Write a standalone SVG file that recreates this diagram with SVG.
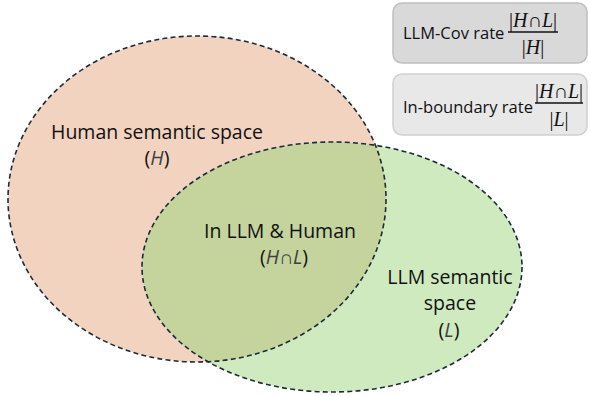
<svg xmlns="http://www.w3.org/2000/svg" width="590" height="396" viewBox="0 0 590 396">
<style>
.lbl{font-family:"Open Sans","Liberation Sans",sans-serif;font-size:19.5px;fill:#111;text-anchor:middle}
.var{font-style:italic;fill:#404040}
.edge{fill:none;stroke:#1e2a38;stroke-width:1.6;stroke-dasharray:5 3.2}
.box1{fill:#d9d9d9;stroke:#bfbfbf;stroke-width:1.5}
.box2{fill:#e8e8e8;stroke:#d0d0d0;stroke-width:1.5}
.btxt{font-family:"Open Sans","Liberation Sans",sans-serif;font-size:16.5px;fill:#111}
.math{font-family:"Liberation Serif","DejaVu Serif",serif;font-size:20px;fill:#111;text-anchor:middle}
.mi{font-style:italic}
</style>
<defs>
<clipPath id="clipH"><ellipse cx="197" cy="199" rx="189" ry="163"/></clipPath>
</defs>
<g id="human">
<ellipse cx="197" cy="199" rx="189" ry="163" fill="#f2d3c0"/>
</g>
<g id="llm">
<ellipse cx="332" cy="267" rx="190" ry="125" fill="#d0eac0"/>
</g>
<g id="overlap">
<ellipse cx="332" cy="267" rx="190" ry="125" fill="#c5d49d" clip-path="url(#clipH)"/>
</g>
<g id="outlines">
<ellipse class="edge" cx="197" cy="199" rx="189" ry="163"/>
<ellipse class="edge" cx="332" cy="267" rx="190" ry="125"/>
</g>
<g id="human-label">
<text class="lbl" x="157" y="139">Human semantic space</text>
<text class="lbl" x="157" y="165">(<tspan class="var">H</tspan>)</text>
</g>
<g id="overlap-label">
<text class="lbl" x="280" y="238">In LLM &amp; Human</text>
<text class="lbl" x="284" y="264">(<tspan class="var">H</tspan><tspan fill="#404040">∩</tspan><tspan class="var">L</tspan>)</text>
</g>
<g id="llm-label">
<text class="lbl" x="450" y="284">LLM semantic</text>
<text class="lbl" x="450" y="310">space</text>
<text class="lbl" x="449" y="337">(<tspan class="var">L</tspan>)</text>
</g>
<g id="llm-cov-rate">
<rect class="box1" x="393" y="3" width="194" height="60" rx="9"/>
<text class="btxt" x="403" y="39">LLM-Cov rate</text>
<text class="math" x="533" y="27">|<tspan class="mi">H</tspan>∩<tspan class="mi">L</tspan>|</text>
<line x1="508" y1="32" x2="558" y2="32" stroke="#111" stroke-width="1.3"/>
<text class="math" x="533" y="54">|<tspan class="mi">H</tspan>|</text>
</g>
<g id="in-boundary-rate">
<rect class="box2" x="393" y="74" width="194" height="61" rx="9"/>
<text class="btxt" x="403" y="113">In-boundary rate</text>
<text class="math" x="559" y="98">|<tspan class="mi">H</tspan>∩<tspan class="mi">L</tspan>|</text>
<line x1="535" y1="103" x2="583" y2="103" stroke="#111" stroke-width="1.3"/>
<text class="math" x="559" y="126">|<tspan class="mi">L</tspan>|</text>
</g>
</svg>
